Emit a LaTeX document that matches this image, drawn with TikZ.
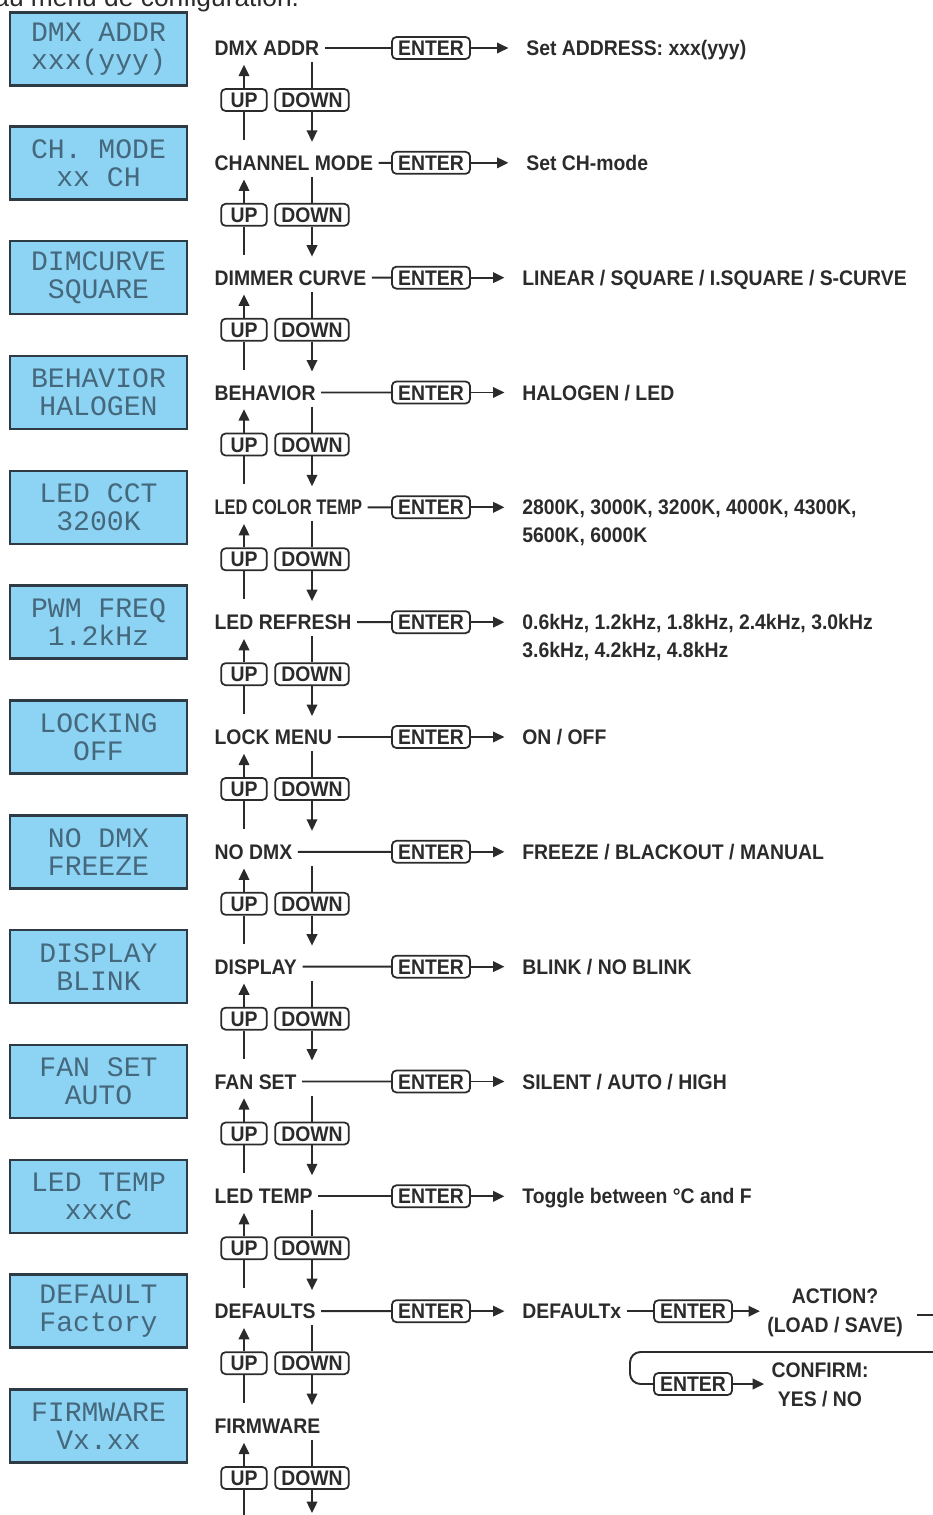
\documentclass[tikz,border=0pt]{standalone}
\usepackage{fontspec}
\setmainfont{Liberation Sans}
\newfontfamily\narrowsf{Liberation Sans}[FakeStretch=0.92]
\newfontfamily\lcdfont{Liberation Mono}
\definecolor{lcdblue}{HTML}{8DD3F3}
\definecolor{lcdedge}{HTML}{2E3B44}
\definecolor{lcdtext}{HTML}{45687C}
\definecolor{ink}{HTML}{2B2B2B}
\usetikzlibrary{arrows.meta}

\begin{document}
\begin{tikzpicture}[x=0.02cm, y=-0.02cm,
  lcd/.style={draw=lcdedge, fill=lcdblue, line width=1.4pt,
              minimum width=3.54cm, minimum height=1.46cm, align=center,
              font=\lcdfont\fontsize{16}{16}\selectfont, text=lcdtext, inner sep=0pt},
  menu/.style={anchor=west, font=\narrowsf\fontsize{12}{16}\selectfont\bfseries, text=ink,
               text height=8.6pt, text depth=0pt, inner xsep=3pt, inner ysep=3.5pt},
  val/.style={anchor=base west, font=\narrowsf\fontsize{12}{16}\selectfont\bfseries, text=ink,
              inner sep=0pt, align=left},
  key/.style={draw=ink, fill=white, rounded corners=2.5pt, line width=1pt,
              font=\narrowsf\fontsize{12}{16}\selectfont\bfseries, text=ink,
              text height=8.6pt, text depth=0pt, inner xsep=3.5pt, inner ysep=0pt,
              minimum height=12.5pt},
  conn/.style={draw=ink, line width=1.1pt},
  arr/.style={conn, -{Triangle[length=6.5pt, width=6pt]}},
]
\useasboundingbox (0,0) rectangle (933,1515);
\clip (0,0) rectangle (933,1515);

\node[anchor=base west, font=\fontsize{15}{18}\selectfont, text=ink, inner sep=0pt] (hdr) at (-6,6) {au menu de configuration.};

\node[lcd] (lcd1) at (98.5,49) {DMX ADDR\\xxx(yyy)};
\node[lcd] (lcd2) at (98.5,162.8) {CH. MODE\\xx CH};
\node[lcd] (lcd3) at (98.5,277.7) {DIMCURVE\\SQUARE};
\node[lcd] (lcd4) at (98.5,392.5) {BEHAVIOR\\HALOGEN};
\node[lcd] (lcd5) at (98.5,507.3) {LED CCT\\3200K};
\node[lcd] (lcd6) at (98.5,622.2) {PWM FREQ\\1.2kHz};
\node[lcd] (lcd7) at (98.5,737) {LOCKING\\OFF};
\node[lcd] (lcd8) at (98.5,851.8) {NO DMX\\FREEZE};
\node[lcd] (lcd9) at (98.5,966.7) {DISPLAY\\BLINK};
\node[lcd] (lcd10) at (98.5,1081.5) {FAN SET\\AUTO};
\node[lcd] (lcd11) at (98.5,1196.3) {LED TEMP\\xxxC};
\node[lcd] (lcd12) at (98.5,1311.2) {DEFAULT\\Factory};
\node[lcd] (lcd13) at (98.5,1426) {FIRMWARE\\Vx.xx};

\node[menu] (m1) at (209,48) {DMX ADDR};
\node[menu] (m2) at (209,162.8) {CHANNEL MODE};
\node[menu] (m3) at (209,277.7) {DIMMER CURVE};
\node[menu] (m4) at (209,392.5) {BEHAVIOR};
\node[menu] (m5) at (209,507.3) {\scalebox{0.85}[1]{LED COLOR TEMP}};
\node[menu] (m6) at (209,622.2) {LED REFRESH};
\node[menu] (m7) at (209,737) {LOCK MENU};
\node[menu] (m8) at (209,851.8) {NO DMX};
\node[menu] (m9) at (209,966.7) {DISPLAY};
\node[menu] (m10) at (209,1081.5) {FAN SET};
\node[menu] (m11) at (209,1196.3) {LED TEMP};
\node[menu] (m12) at (209,1311.2) {DEFAULTS};
\node[menu] (m13) at (209,1426) {FIRMWARE};

\node[val] (v1) at (526,55.5) {Set ADDRESS: xxx(yyy)};
\node[val] (v2) at (526,170.3) {Set CH-mode};
\node[val] (v3) at (522,285.2) {LINEAR / SQUARE / I.SQUARE / S-CURVE};
\node[val] (v4) at (522,400) {HALOGEN / LED};
\node[val] (v5) at (522,542.8) {2800K, 3000K, 3200K, 4000K, 4300K,\\5600K, 6000K};
\node[val] (v6) at (522,657.7) {0.6kHz, 1.2kHz, 1.8kHz, 2.4kHz, 3.0kHz\\3.6kHz, 4.2kHz, 4.8kHz};
\node[val] (v7) at (522,744.5) {ON / OFF};
\node[val] (v8) at (522,859.3) {FREEZE / BLACKOUT / MANUAL};
\node[val] (v9) at (522,974.2) {BLINK / NO BLINK};
\node[val] (v10) at (522,1089) {SILENT / AUTO / HIGH};
\node[val] (v11) at (522,1203.8) {Toggle between °C and F};
\node[val] (v12) at (522,1318.7) {DEFAULTx};

\foreach \i in {1,...,12}{
  \node[key] (ent\i) at (431,{48+114.83*(\i-1)}) {ENTER};
  \draw[conn] (m\i) -- (ent\i);
  \draw[arr, shorten >=10pt] (ent\i.east) -- (ent\i.east -| v\i.west);
}

\foreach \i in {1,...,13}{
  \node[key, minimum width=26pt] (up\i) at (244,{100+114.83*(\i-1)}) {UP};
  \node[key] (dn\i) at (312,{100+114.83*(\i-1)}) {DOWN};
  \draw[arr, shorten >=1.5pt] (up\i.north) -- (up\i.north |- m\i.south);
  \draw[conn] (dn\i.north |- m\i.south) -- (dn\i.north);
}
\foreach \i [evaluate=\i as \j using int(\i+1)] in {1,...,12}{
  \draw[conn] (up\i.south) -- ([yshift=5pt]up\i.south |- m\j.north);
  \draw[arr] (dn\i.south) -- ([yshift=4pt]dn\i.south |- m\j.north);
}
\coordinate (btm) at (244,1530);
\coordinate (tip) at (312,1513);
\draw[conn] (up13.south) -- (btm);
\draw[arr] (dn13.south) -- (tip);

\node[key] (ent12b) at (693,1311.2) {ENTER};
\node[val, anchor=base, align=center] (act) at (835,1332) {ACTION?\\(LOAD / SAVE)};
\node[key] (ent12c) at (693,1384) {ENTER};
\node[val, anchor=base, align=center] (conf) at (820,1406) {CONFIRM:\\YES / NO};
\coordinate (outa) at (950,1315);
\coordinate (outb) at (950,1352);
\coordinate (bend) at (630,1352);
\draw[conn, shorten <=3pt] (ent12b.west -| v12.east) -- (ent12b.west);
\draw[arr, shorten >=4pt] (ent12b.east) -- (ent12b.east -| act.west);
\draw[conn, shorten <=8pt] (outa -| act.east) -- (outa);
\draw[conn, rounded corners=6pt] (outb) -- (bend) |- (ent12c.west);
\draw[arr, shorten >=4pt] (ent12c.east) -- (ent12c.east -| conf.west);
\end{tikzpicture}
\end{document}
